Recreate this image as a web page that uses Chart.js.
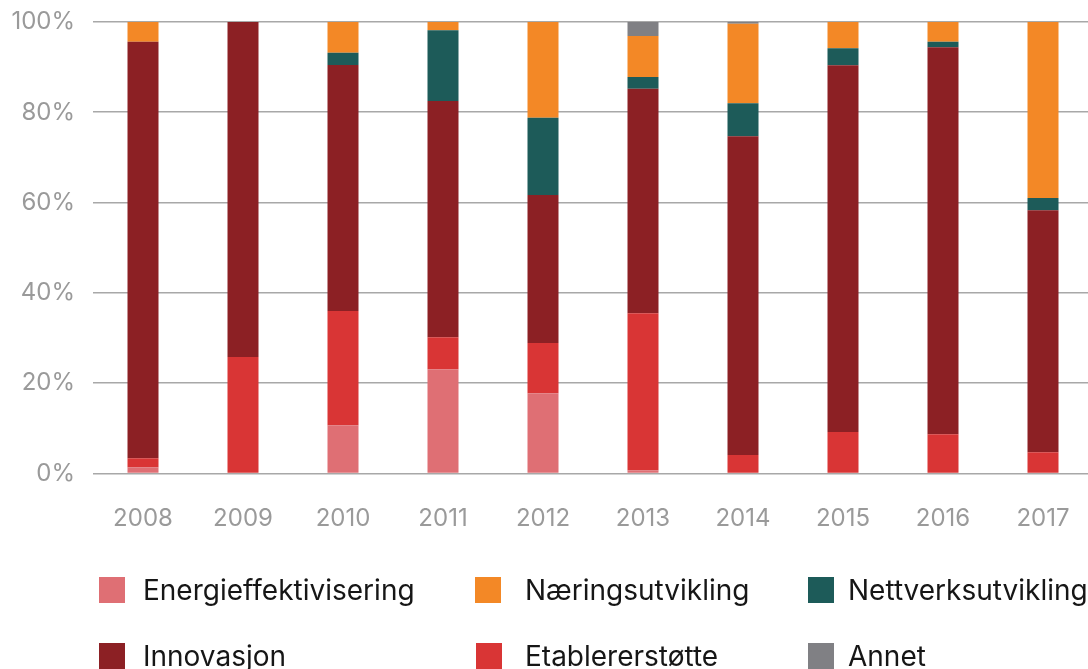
<!DOCTYPE html>
<html lang="no">
<head>
  <meta charset="utf-8">
  <title>Tilskudd etter formål</title>
  <script src="https://cdn.jsdelivr.net/npm/chart.js@4/dist/chart.umd.min.js"></script>
  <style>
    html, body { margin: 0; padding: 0; background: #fff; overflow: hidden; }
    body { width: 1088px; height: 669px; position: relative; font-family: Inter, "Noto Sans", sans-serif; }
    #chart { position: absolute; left: 0; top: 0; }
    #legend { position: absolute; left: 0; top: 0; width: 1088px; height: 669px; }
    .box { position: absolute; width: 26px; height: 26px; }
    .txt { position: absolute; font-size: 28px; line-height: 34px; color: #161616; white-space: nowrap; }
  </style>
</head>
<body>
  <canvas id="chart" width="1093" height="545"></canvas>
  <div id="legend"></div>

  <script>
    // andel per år (prosent), lest av figuren
    var years = ["2008", "2009", "2010", "2011", "2012", "2013", "2014", "2015", "2016", "2017"];
    var energi   = [1.4, 0, 10.7, 23.1, 17.8, 0.7, 0, 0, 0, 0];
    var etabl    = [2.0, 25.8, 25.3, 7.1, 11.1, 34.8, 4.1, 9.2, 8.7, 4.7];
    var innov    = [92.2, 74.2, 54.5, 52.3, 32.8, 49.7, 70.6, 81.2, 85.7, 53.6];
    var nett     = [0, 0, 2.7, 15.7, 17.1, 2.6, 7.3, 3.8, 1.2, 2.7];
    var naering  = [4.4, 0, 6.8, 1.8, 21.2, 9.1, 17.6, 5.8, 4.4, 39.0];
    var annet    = [0, 0, 0, 0, 0, 3.1, 0.4, 0, 0, 0];
    var yTicks   = [0, 20, 40, 60, 80, 100];

    function ds(label, data, color) {
      return { label: label, data: data, backgroundColor: color, borderWidth: 0,
               barPercentage: 0.31, categoryPercentage: 1 };
    }

    // stabling nedenfra og opp
    var datasets = [
      ds("Energieffektivisering", energi, "#df6f74"),
      ds("Etablererstøtte", etabl, "#d93535"),
      ds("Innovasjon", innov, "#8c2024"),
      ds("Nettverksutvikling", nett, "#1d5b59"),
      ds("Næringsutvikling", naering, "#f38826"),
      ds("Annet", annet, "#808084")
    ];

    var tickFont = { family: "Inter, 'Noto Sans', sans-serif", size: 24 };

    var chart = new Chart(document.getElementById("chart"), {
      type: "bar",
      data: { labels: years, datasets: datasets },
      options: {
        responsive: false,
        animation: false,
        layout: { padding: { top: 22, right: 0, bottom: 0, left: 0 } },
        plugins: { legend: { display: false }, tooltip: { enabled: false } },
        scales: {
          x: {
            stacked: true,
            grid: { display: false, drawTicks: false },
            border: { display: false },
            ticks: { color: "#9a9a9a", font: tickFont, padding: 31 },
            afterFit: function(s) { s.height = 545 - 473.5; s.paddingLeft = 0; s.paddingRight = 0; }
          },
          y: {
            stacked: true,
            min: 0, max: 100,
            afterBuildTicks: function(s) { s.ticks = yTicks.map(function(v) { return { value: v }; }); },
            grid: { color: "#a8a8a8", lineWidth: 1.6, drawTicks: false },
            border: { display: false },
            ticks: { color: "#9a9a9a", font: tickFont, padding: 18,
                     callback: function(v) { return v + "%"; } },
            afterFit: function(s) { s.width = 93; s.paddingTop = 0; s.paddingBottom = 0; }
          }
        }
      }
    });

    // egen legende i tre kolonner: [navn, boks x, tekst x, rad y]
    var legendOrder = [
      ["Energieffektivisering", 99, 143, 577], ["Næringsutvikling", 475, 525, 577], ["Nettverksutvikling", 808, 848, 577],
      ["Innovasjon", 99, 143, 643], ["Etablererstøtte", 476, 525, 643], ["Annet", 808, 848, 643]
    ];
    var legend = document.getElementById("legend");
    legendOrder.forEach(function(l) {
      var d = chart.data.datasets.find(function(x) { return x.label === l[0]; });
      var box = document.createElement("div");
      box.className = "box";
      box.style.left = l[1] + "px";
      box.style.top = l[3] + "px";
      box.style.background = d.backgroundColor;
      var t = document.createElement("div");
      t.className = "txt";
      t.style.left = l[2] + "px";
      t.style.top = (l[3] - 4) + "px";
      t.textContent = d.label;
      legend.appendChild(box);
      legend.appendChild(t);
    });
  </script>
</body>
</html>
